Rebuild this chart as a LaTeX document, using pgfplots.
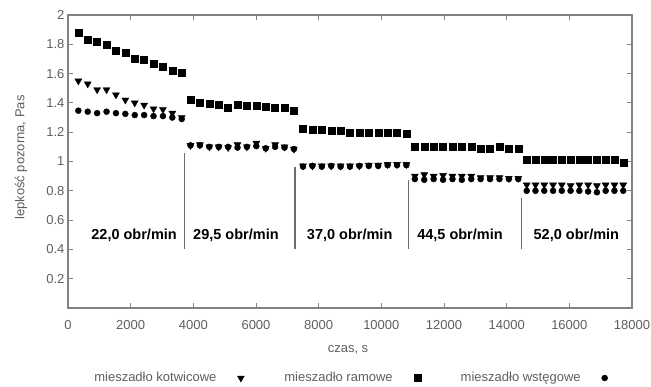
\documentclass[border=0pt]{standalone}
\usepackage{fontspec}
\setmainfont{Liberation Sans}
\usepackage{pgfplots}
\usepackage{pgfplotstable}
\pgfplotsset{compat=1.18}
\definecolor{txt}{RGB}{95,95,95}
\definecolor{axc}{RGB}{130,130,130}
\definecolor{sepc}{RGB}{110,110,110}

\pgfplotstableread{
x kot ram wst
330 1.55 1.88 1.347
630 1.53 1.83 1.34
930 1.49 1.82 1.33
1230 1.49 1.795 1.34
1530 1.455 1.755 1.33
1830 1.42 1.745 1.325
2130 1.40 1.705 1.317
2430 1.385 1.695 1.317
2730 1.36 1.67 1.31
3030 1.355 1.645 1.31
3330 1.33 1.62 1.30
3630 1.30 1.605 1.29
3910 1.11 1.42 1.11
4210 1.115 1.40 1.11
4510 1.10 1.395 1.10
4810 1.10 1.39 1.10
5110 1.095 1.365 1.10
5410 1.115 1.39 1.095
5710 1.10 1.38 1.10
6010 1.125 1.38 1.105
6310 1.09 1.375 1.09
6610 1.115 1.37 1.10
6910 1.10 1.365 1.095
7210 1.085 1.35 1.085
7500 0.97 1.225 0.965
7800 0.97 1.22 0.97
8100 0.97 1.22 0.965
8400 0.97 1.21 0.97
8700 0.97 1.21 0.965
9000 0.97 1.20 0.965
9300 0.97 1.20 0.97
9600 0.975 1.20 0.97
9900 0.975 1.20 0.97
10200 0.98 1.20 0.975
10500 0.98 1.20 0.975
10800 0.98 1.19 0.975
11070 0.90 1.10 0.88
11370 0.91 1.10 0.875
11670 0.90 1.10 0.88
11970 0.905 1.10 0.875
12270 0.90 1.10 0.88
12570 0.90 1.10 0.875
12870 0.90 1.10 0.88
13170 0.89 1.09 0.88
13470 0.89 1.09 0.88
13770 0.89 1.10 0.88
14070 0.885 1.09 0.88
14370 0.885 1.09 0.88
14640 0.84 1.015 0.80
14920 0.84 1.015 0.80
15200 0.84 1.01 0.80
15480 0.84 1.01 0.80
15760 0.84 1.01 0.80
16040 0.835 1.01 0.80
16320 0.84 1.01 0.80
16600 0.84 1.01 0.795
16880 0.835 1.01 0.79
17160 0.84 1.01 0.80
17440 0.84 1.01 0.80
17720 0.84 0.995 0.80
}\datatable

\begin{document}
\begin{tikzpicture}
\path[use as bounding box] (-68pt,-78pt) rectangle (583pt,308pt);
\begin{axis}[
  at={(0,0)}, anchor=south west,
  scale only axis, width=564pt, height=293pt,
  xmin=0, xmax=18000, ymin=0, ymax=2,
  clip=false,
  xtick={0,2000,4000,6000,8000,10000,12000,14000,16000,18000},
  ytick={0.2,0.4,0.6,0.8,1,1.2,1.4,1.6,1.8,2},
  tick align=inside, major tick length=5pt,
  axis line style={axc, line width=1.2pt},
  every tick/.style={axc, line width=1pt},
  /pgf/number format/assume math mode=true,
  tick label style={font=\fontsize{13}{15}\selectfont, text=txt},
  scaled x ticks=false,
  xticklabel={\pgfmathprintnumber[fixed,precision=0,set thousands separator={}]{\tick}},
  yticklabel={\pgfmathprintnumber[fixed,precision=1,use period]{\tick}},
  xticklabel style={yshift=-9pt},
  legend plot pos=right,
  legend columns=3,
  legend style={at={(rel axis cs:0.5,0)}, yshift=-70pt, anchor=center,
    draw=none, fill=none, font=\fontsize{13}{15}\selectfont, text=txt,
    /tikz/every odd column/.append style={column sep=19pt},
    /tikz/every even column/.append style={column sep=38pt}},
]
\addplot[only marks, mark=triangle*, mark size=4pt, mark options={rotate=180, fill=black, draw=black}] table[x=x, y=kot] {\datatable};
\addlegendentry{mieszadło kotwicowe}
\addplot[only marks, mark=square*, mark size=3.5pt, mark options={fill=black, draw=black}] table[x=x, y=ram] {\datatable};
\addlegendentry{mieszadło ramowe}
\addplot[only marks, mark=*, mark size=3pt, mark options={fill=black, draw=black}] table[x=x, y=wst] {\datatable};
\addlegendentry{mieszadło wstęgowe}

\addplot[forget plot, sepc, line width=1.2pt] coordinates {(3712,0.4) (3712,1.055)};
\addplot[forget plot, sepc, line width=1.2pt] coordinates {(7245,0.4) (7245,0.965)};
\addplot[forget plot, sepc, line width=1.2pt] coordinates {(10860,0.4) (10860,0.874)};
\addplot[forget plot, sepc, line width=1.2pt] coordinates {(14480,0.4) (14480,0.75)};

\node[font=\bfseries\fontsize{14.5}{16}\selectfont] at (axis cs:2110,0.494) {22,0 obr/min};
\node[font=\bfseries\fontsize{14.5}{16}\selectfont] at (axis cs:5360,0.494) {29,5 obr/min};
\node[font=\bfseries\fontsize{14.5}{16}\selectfont] at (axis cs:8990,0.494) {37,0 obr/min};
\node[font=\bfseries\fontsize{14.5}{16}\selectfont] at (axis cs:12510,0.494) {44,5 obr/min};
\node[font=\bfseries\fontsize{14.5}{16}\selectfont] at (axis cs:16225,0.494) {52,0 obr/min};

\node[rotate=90, font=\fontsize{13}{15}\selectfont, text=txt] at (axis cs:-1500,1.027) {lepkość pozorna, Pas};
\node[font=\fontsize{13}{15}\selectfont, text=txt] at (rel axis cs:0.5,0) [yshift=-42pt, xshift=-2pt] {czas, s};
\end{axis}
\end{tikzpicture}
\end{document}
